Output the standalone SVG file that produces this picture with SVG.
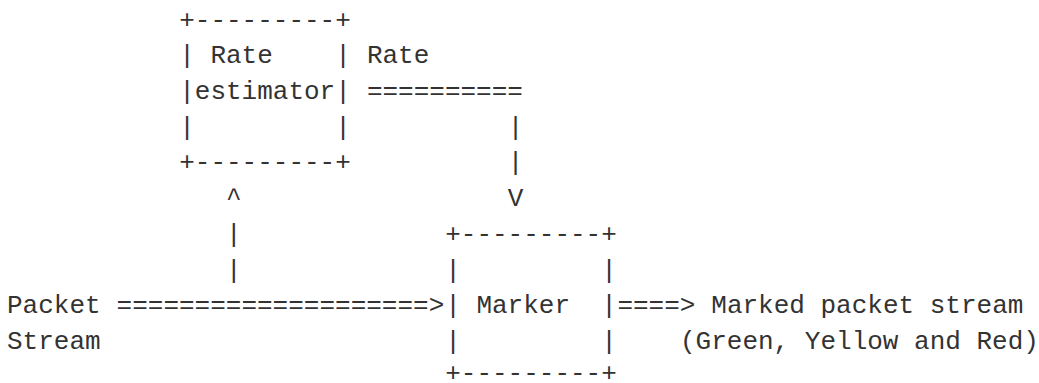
<svg xmlns="http://www.w3.org/2000/svg" width="1039" height="383" viewBox="0 0 1039 383">
  <style>
    text { font-family: "Liberation Mono", "DejaVu Sans Mono", monospace; font-size: 26px; fill: #333333; white-space: pre; }
  </style>
  <rect width="1039" height="383" fill="#ffffff"/>

  <!-- Rate estimator box: columns 11-21, rows 1-5 -->
  <g id="rate-estimator" xml:space="preserve">
    <text x="179.2" y="27.6">+---------+</text>
    <text x="179.2" y="63.3">| Rate    |</text>
    <text x="179.2" y="99.0">|estimator|</text>
    <text x="179.2" y="134.7">|         |</text>
    <text x="179.2" y="170.4">+---------+</text>
  </g>

  <!-- Marker box: columns 28-38, rows 7-11 -->
  <g id="marker" xml:space="preserve">
    <text x="445.2" y="241.9">+---------+</text>
    <text x="445.2" y="277.6">|         |</text>
    <text x="445.2" y="313.3">| Marker  |</text>
    <text x="445.2" y="349.0">|         |</text>
    <text x="445.2" y="381.0">+---------+</text>
  </g>

  <!-- Packet stream source label -->
  <g id="packet-stream" xml:space="preserve">
    <text x="7" y="313.3">Packet</text>
    <text x="7" y="349.0">Stream</text>
  </g>

  <!-- Output label -->
  <g id="marked-stream" xml:space="preserve">
    <text x="711.3" y="313.3">Marked packet stream</text>
    <text x="680.0" y="349.0">(Green, Yellow and Red)</text>
  </g>

  <!-- Connectors -->
  <g id="connectors" xml:space="preserve">
    <!-- rate estimate to marker -->
    <text x="366.9" y="63.3">Rate</text>
    <text x="366.9" y="99.0">==========</text>
    <text x="507.8" y="134.7">|</text>
    <text x="507.8" y="170.4">|</text>
    <text x="507.8" y="206.2">V</text>
    <!-- packet stream tap up to estimator -->
    <text x="226.1" y="206.2">^</text>
    <text x="226.1" y="241.9">|</text>
    <text x="226.1" y="277.6">|</text>
    <!-- packet stream into marker -->
    <text x="116.6" y="313.3">====================&gt;</text>
    <!-- marker output -->
    <text x="617.4" y="313.3">====&gt;</text>
  </g>
</svg>
